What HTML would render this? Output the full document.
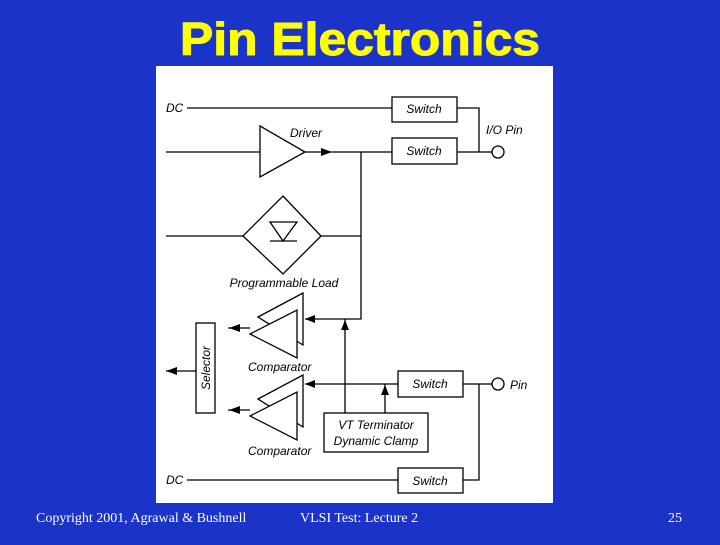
<!DOCTYPE html>
<html><head><meta charset="utf-8"><style>
html,body{margin:0;padding:0;}
body{width:720px;height:540px;background:#1c33c9;overflow:hidden;}
</style></head><body>
<svg width="720" height="540" viewBox="0 0 720 540" xmlns="http://www.w3.org/2000/svg">
<rect x="0" y="0" width="720" height="540" fill="#1c33c9"/>
<text x="180" y="55" textLength="360" lengthAdjust="spacingAndGlyphs" font-family="Liberation Sans, sans-serif" font-weight="bold" font-size="46" fill="#ffff00" stroke="#ffff00" stroke-width="1">Pin Electronics</text>
<rect x="156" y="66" width="397" height="437" fill="#fff"/>
<g stroke="#000" stroke-width="1.3" fill="none">
<line x1="187" y1="108" x2="392" y2="108"/>
<rect x="392" y="97" width="65" height="25"/>
<polyline points="457,108 479,108 479,152"/>
<line x1="166" y1="152" x2="260" y2="152"/>
<polygon points="260,126 305,152 260,177"/>
<line x1="305" y1="152" x2="392" y2="152"/>
<rect x="392" y="138" width="65" height="26"/>
<line x1="457" y1="152" x2="492" y2="152"/>
<circle cx="498" cy="152" r="6"/>
<polyline points="361,152 361,319 305,319"/>
<line x1="166" y1="236" x2="243" y2="236"/>
<polygon points="283,196 321,236 283,274 243,236"/>
<line x1="321" y1="236" x2="361" y2="236"/>
<polygon points="270,222 297,222 283,241"/>
<line x1="270" y1="241" x2="297" y2="241"/>
<polygon points="258,317 303,293 303,345" fill="#fff"/>
<polygon points="250,334 297,310 297,358" fill="#fff"/>
<polygon points="258,399 303,375 303,427" fill="#fff"/>
<polygon points="250,416 297,392 297,440" fill="#fff"/>
<rect x="196" y="323" width="19" height="90"/>
<line x1="228" y1="328" x2="250" y2="328"/>
<line x1="228" y1="410" x2="250" y2="410"/>
<line x1="166" y1="371" x2="196" y2="371"/>
<rect x="398" y="371" width="65" height="26"/>
<line x1="398" y1="384" x2="305" y2="384"/>
<line x1="463" y1="384" x2="492" y2="384"/>
<circle cx="498" cy="384" r="6"/>
<polyline points="479,384 479,480 463,480"/>
<rect x="398" y="468" width="65" height="25"/>
<line x1="187" y1="480" x2="398" y2="480"/>
<rect x="324" y="413" width="104" height="39"/>
<line x1="345" y1="413" x2="345" y2="319"/>
<line x1="385" y1="413" x2="385" y2="384"/>
</g>
<g fill="#000">
<polygon points="332,152 321,148 321,156"/>
<polygon points="305,319 315,315 315,323"/>
<polygon points="305,384 315,380 315,388"/>
<polygon points="345,320 341,330 349,330"/>
<polygon points="385,385 381,395 389,395"/>
<polygon points="229,328 240,324 240,332"/>
<polygon points="229,410 240,406 240,414"/>
<polygon points="166,371 177,367 177,375"/>
</g>
<g font-family="Liberation Sans, sans-serif" font-style="italic" font-size="12" fill="#000">
<text x="166" y="112">DC</text>
<text x="166" y="484">DC</text>
<text x="424" y="113" text-anchor="middle">Switch</text>
<text x="424" y="155" text-anchor="middle">Switch</text>
<text x="430" y="388" text-anchor="middle">Switch</text>
<text x="430" y="485" text-anchor="middle">Switch</text>
<text x="290" y="137">Driver</text>
<text x="486" y="134">I/O Pin</text>
<text x="510" y="389">Pin</text>
<text x="284" y="287" text-anchor="middle">Programmable Load</text>
<text x="248" y="371">Comparator</text>
<text x="248" y="455">Comparator</text>
<text x="376" y="429" text-anchor="middle">VT Terminator</text>
<text x="376" y="445" text-anchor="middle">Dynamic Clamp</text>
<text transform="translate(210,368) rotate(-90)" text-anchor="middle">Selector</text>
</g>
<g font-family="Liberation Serif, serif" font-size="14" fill="#fff">
<text x="36" y="522">Copyright 2001, Agrawal &amp; Bushnell</text>
<text x="300" y="522">VLSI Test: Lecture 2</text>
<text x="668" y="522">25</text>
</g>
</svg>
</body></html>
